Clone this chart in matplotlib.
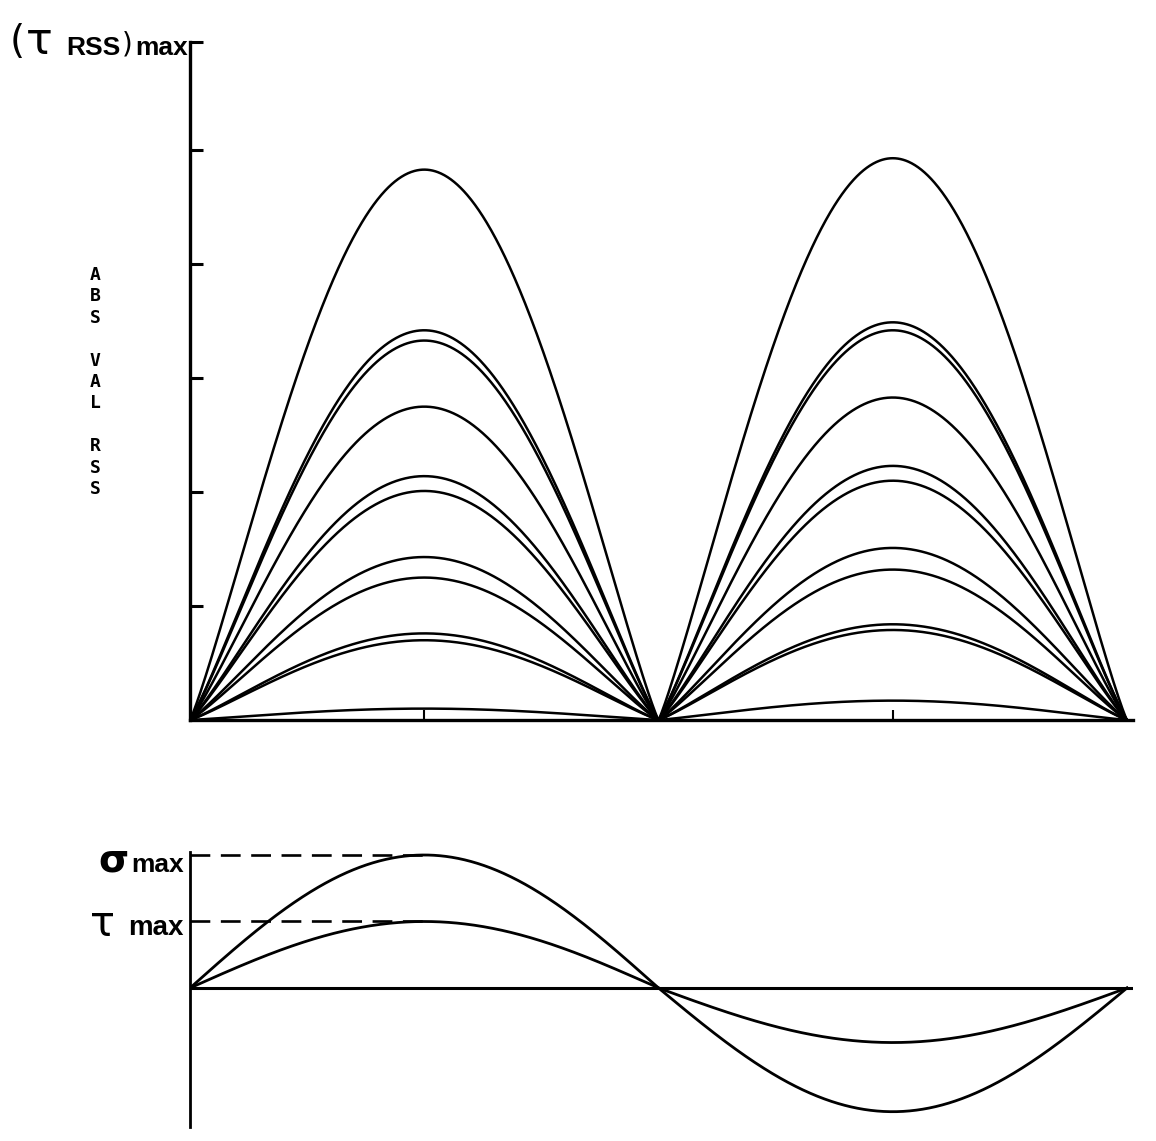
import numpy as np
import matplotlib
matplotlib.use("Agg")
import matplotlib.pyplot as plt

# ---------------- data ----------------
# peak value of each RSS curve in first hump (0-180 deg) and second hump (180-360 deg)
rss_peak_hump1 = [4.83, 3.42, 3.33, 2.75, 2.14, 2.01, 1.43, 1.25, 0.76, 0.70, 0.10]
rss_peak_hump2 = [4.93, 3.49, 3.42, 2.83, 2.23, 2.10, 1.51, 1.32, 0.84, 0.79, 0.17]
rss_y_ticks = [1, 2, 3, 4, 5]
rss_y_top = 5.95
rss_x_ticks = [90, 270]

# lower panel: positive / negative lobe amplitudes (relative to sigma max)
sigma_lobes = [1.00, 0.93]
tau_lobes = [0.50, 0.41]
sigma_max_level = 1.00
tau_max_level = 0.50

W, H = 1156, 1141
fig = plt.figure(figsize=(W / 100, H / 100), dpi=100)


def fx(px):
    return px / W


def fy(py):
    return 1 - py / H


x_right = 360 * (1133 - 190) / (1127 - 190)
theta = np.linspace(0, 360, 1441)
rad = np.radians(theta)
shape_exp = 1.12

# ---------------- top panel ----------------
ax1 = fig.add_axes([fx(190), fy(720), (1133 - 190) / W, (720 - 42) / H])
ax1.set_xlim(0, x_right)
ax1.set_ylim(0, rss_y_top)
for s in ["top", "right"]:
    ax1.spines[s].set_visible(False)
ax1.spines["left"].set_linewidth(2.4)
ax1.spines["bottom"].set_linewidth(2.4)
ax1.set_yticks(rss_y_ticks + [rss_y_top])
ax1.set_xticks(rss_x_ticks)
ax1.tick_params(axis="y", direction="in", length=9, width=2.2, labelleft=False)
ax1.tick_params(axis="x", direction="in", length=7, width=1.5, labelbottom=False)

for a1, a2 in zip(rss_peak_hump1, rss_peak_hump2):
    amp = np.where(theta <= 180, a1, a2)
    y = amp * np.abs(np.sin(rad)) ** shape_exp
    ax1.plot(theta, y, color="black", lw=1.8, solid_capstyle="round")

# ---------------- bottom panel ----------------
ax2 = fig.add_axes([fx(190), fy(1127), (1133 - 190) / W, (1127 - 852) / H])
ax2.set_xlim(0, x_right)
ax2.set_ylim(-(1127 - 988) / 133, (988 - 852) / 133)
for s in ["top", "right", "bottom"]:
    ax2.spines[s].set_visible(False)
ax2.spines["left"].set_linewidth(2.0)
ax2.set_xticks([])
ax2.set_yticks([])
ax2.axhline(0, color="black", lw=2.2)

sig = np.sin(rad) * np.where(theta <= 180, sigma_lobes[0], sigma_lobes[1])
tau = np.sin(rad) * np.where(theta <= 180, tau_lobes[0], tau_lobes[1])
ax2.plot(theta, sig, color="black", lw=2.0)
ax2.plot(theta, tau, color="black", lw=2.0)
ax2.plot([0, 90], [sigma_max_level] * 2, color="black", lw=1.9, dashes=[7.5, 4])
ax2.plot([0, 90], [tau_max_level] * 2, color="black", lw=1.9, dashes=[7.5, 4])

# ---------------- labels ----------------
fig.text(fx(10), fy(53), "(", fontsize=28, family="DejaVu Sans", va="baseline", ha="left")
fig.text(fx(26), fy(54), "τ", fontsize=32, family="DejaVu Sans", va="baseline", ha="left")
fig.text(fx(66), fy(55), "RSS", fontsize=19, family="Liberation Sans", weight="bold",
         va="baseline", ha="left")
fig.text(fx(122), fy(52), ")", fontsize=20, family="DejaVu Sans", va="baseline", ha="left")
fig.text(fx(135), fy(55), "max", fontsize=19, family="Liberation Sans", weight="bold",
         va="baseline", ha="left")

letters = ["A", "B", "S", "", "V", "A", "L", "", "R", "S", "S"]
for i, ch in enumerate(letters):
    if ch:
        fig.text(fx(95), fy(275 + i * 21.4), ch, fontsize=13, family="DejaVu Sans Mono",
                 weight="bold", ha="center", va="center")

fig.text(fx(98), fy(872), "σ", fontsize=28, family="DejaVu Sans", weight="bold",
         va="baseline", ha="left")
fig.text(fx(184), fy(872), "max", fontsize=19, family="Liberation Sans", weight="bold",
         va="baseline", ha="right")
fig.text(fx(90), fy(936), "τ", fontsize=30, family="DejaVu Sans",
         va="baseline", ha="left")
fig.text(fx(184), fy(935), "max", fontsize=20, family="Liberation Sans", weight="bold",
         va="baseline", ha="right")

fig.savefig("out.png", dpi=100, facecolor="white")
